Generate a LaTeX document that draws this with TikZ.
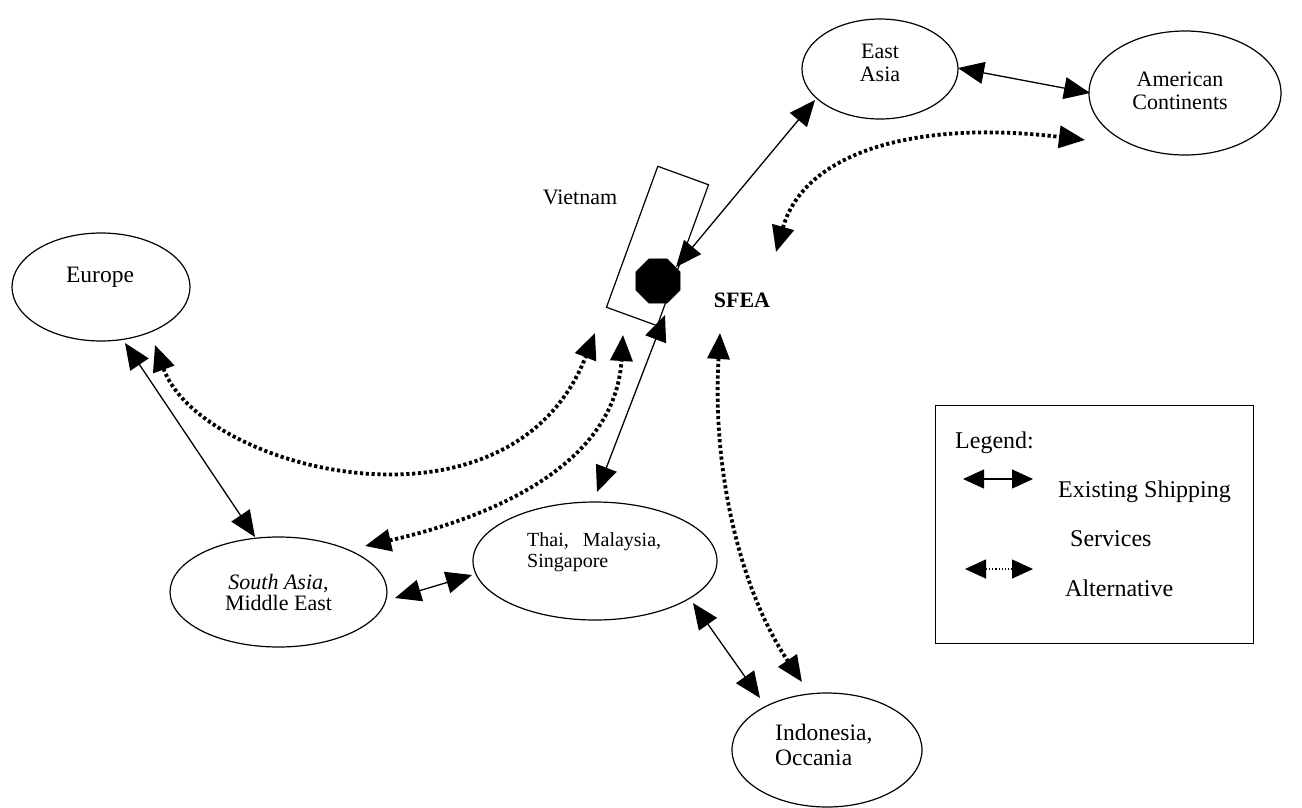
\documentclass[tikz,border=0pt]{standalone}
\usepackage{fontspec}
\setmainfont{Liberation Serif}
\usetikzlibrary{arrows.meta,shapes.geometric,calc}
\begin{document}
\begin{tikzpicture}[x=1pt,y=-1pt,
  region/.style={draw, ellipse, line width=1.2pt, inner sep=0pt},
  lbl/.style={inner sep=0pt, align=center},
  lgd/.style={inner sep=0pt, anchor=west, font=\fontsize{24}{26}\selectfont},
  >={Triangle[length=26pt,width=22pt]},
  solidlink/.style={<->, line width=1.3pt},
  altlink/.style={<->, line width=3.8pt, dash pattern=on 3.2pt off 2.6pt},
  legarrow/.style={{Triangle[length=21pt,width=19pt]}-{Triangle[length=21pt,width=19pt]}, line width=1.2pt}]
\useasboundingbox (0,0) rectangle (1302,807);

% regions
\node[region, minimum width=178pt, minimum height=108pt] (eu) at (101,287) {};
\node[lbl, font=\fontsize{23.5}{25}\selectfont] (euT) at (100,277) {Europe};

\node[region, minimum width=156pt, minimum height=100pt] (ea) at (880,69) {};
\node[lbl, font=\fontsize{22}{23}\selectfont] (eaT) at (880,63) {East\\Asia};

\node[region, minimum width=192pt, minimum height=124pt] (am) at (1185,93) {};
\node[lbl, font=\fontsize{22}{23}\selectfont] (amT) at (1180,91) {American\\Continents};

\node[region, minimum width=217pt, minimum height=110pt] (sa) at (278.5,592) {};
\node[lbl, font=\fontsize{22}{21}\selectfont] (saT) at (278.5,592) {\textit{South Asia},\\Middle East};

\node[region, minimum width=244pt, minimum height=118pt] (th) at (595,561) {};
\node[lbl, align=left, anchor=west, font=\fontsize{20}{21}\selectfont] (thT) at (527,552) {Thai,\hspace{14pt}Malaysia,\\Singapore};

\node[region, minimum width=190pt, minimum height=114pt] (io) at (827,750) {};
\node[lbl, align=left, anchor=west, font=\fontsize{23.5}{25}\selectfont] (ioT) at (775,745) {Indonesia,\\Occania};

% Vietnam
\node[draw, rectangle, line width=1.2pt, minimum width=54pt, minimum height=150pt, inner sep=0pt, rotate=-20] (vn) at (657.5,246) {};
\node[regular polygon, regular polygon sides=8, fill=black, draw=black, minimum size=48pt, inner sep=0pt] (oct) at (658,281) {};
\node[lbl, font=\fontsize{22}{24}\selectfont] (vnT) at (580,197) {Vietnam};
\node[lbl, font=\fontsize{22}{24}\selectfont\bfseries] (sfea) at (742,300) {SFEA};

% existing services
\draw[solidlink] ($(ea)+(-65,31)$) -- ($(oct)+(18,-14)$);
\draw[solidlink] ($(ea)+(78,-1)$) -- ($(am)+(-95,0)$);
\draw[solidlink] ($(eu)+(24,56)$) -- ($(sa)+(-23.5,-55)$);
\draw[solidlink] ($(oct)+(7,34)$) -- ($(th)+(2,-69)$);
\draw[solidlink] ($(sa)+(116.5,6)$) -- ($(th)+(-123,14)$);
\draw[solidlink] ($(th)+(98,42)$) -- ($(io)+(-67,-52)$);

% alternatives
\draw[altlink] ($(sfea)+(34,-48)$) .. controls (805,150) and (920,120) .. ($(am)+(-100,47)$);
\draw[altlink] ($(eu)+(54,58)$) .. controls (200,470) and (510,550) .. ($(vn)+(-62.5,87)$);
\draw[altlink] ($(sa)+(86.5,-46)$) .. controls (480,520) and (615,470) .. ($(vn)+(-34.5,89)$);
\draw[altlink] ($(sfea)+(-22,33)$) .. controls (712,470) and (740,590) .. ($(io)+(-25,-68)$);

% legend
\node[draw, line width=1.2pt, minimum width=318pt, minimum height=238pt, anchor=north west, inner sep=0pt] (leg) at (935,405) {};
\node[lgd] (legT) at (955,443) {Legend:};
\draw[legarrow] ($(leg.north west)+(28,74)$) -- ($(leg.north west)+(98,74)$);
\node[lgd] (exT) at (1058,492) {Existing Shipping};
\node[lgd] (svT) at (1070,539) {Services};
\draw[legarrow, dotted] ($(leg.north west)+(30,164)$) -- ($(leg.north west)+(98,164)$);
\node[lgd] (alT) at (1065,588) {Alternative};
\end{tikzpicture}
\end{document}
